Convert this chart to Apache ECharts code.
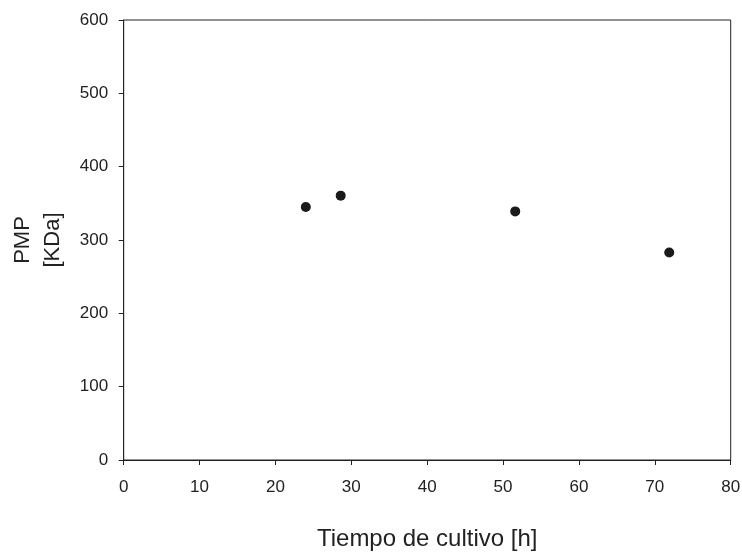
<!DOCTYPE html>
<html>
<head>
<meta charset="utf-8">
<script src="https://cdn.jsdelivr.net/npm/echarts@6/dist/echarts.min.js"></script>
<style>html,body{margin:0;padding:0;background:#fff}#c{width:742px;height:552px}</style>
</head>
<body>
<div id="c"></div>
<script>
var tiempo = [24, 28.6, 51.6, 71.9];
var pmp = [345, 360.5, 339, 283];
var xTicks = [0, 10, 20, 30, 40, 50, 60, 70, 80];
var yTicks = [0, 100, 200, 300, 400, 500, 600];

var points = tiempo.map(function (t, i) { return [t, pmp[i]]; });
var chart = echarts.init(document.getElementById('c'), null, {renderer: 'canvas'});
var font = 'Liberation Sans, Arial, sans-serif';
chart.setOption({
  animation: false,
  backgroundColor: '#fff',
  grid: {left: 123.7, right: 11.3, top: 20, bottom: 92, containLabel: false, outerBoundsMode: 'none',
         show: true, borderColor: '#222', borderWidth: 1, backgroundColor: 'transparent'},
  xAxis: {
    type: 'value', min: xTicks[0], max: xTicks[xTicks.length - 1], interval: 10,
    name: 'Tiempo de cultivo [h]', nameLocation: 'middle', nameGap: 67,
    nameTextStyle: {fontFamily: font, fontSize: 24, color: '#222'},
    axisLine: {show: true, lineStyle: {color: '#222', width: 1}},
    axisTick: {show: true, inside: false, length: 5, lineStyle: {color: '#222'}},
    axisLabel: {fontFamily: font, fontSize: 17, color: '#222', margin: 19},
    splitLine: {show: false}
  },
  yAxis: {
    type: 'value', min: yTicks[0], max: yTicks[yTicks.length - 1], interval: 100,
    name: 'PMP\n[KDa]', nameLocation: 'middle', nameGap: 56, nameRotate: 90,
    nameTextStyle: {fontFamily: font, fontSize: 22, color: '#222', lineHeight: 30},
    axisLine: {show: true, lineStyle: {color: '#222', width: 1}},
    axisTick: {show: true, inside: false, length: 5, lineStyle: {color: '#222'}},
    axisLabel: {fontFamily: font, fontSize: 17, color: '#222', margin: 15.5},
    splitLine: {show: false}
  },
  series: [{
    type: 'scatter', data: points, symbol: 'circle', symbolSize: 10,
    itemStyle: {color: '#1a1a1a', opacity: 1}
  }]
});
</script>
</body>
</html>
